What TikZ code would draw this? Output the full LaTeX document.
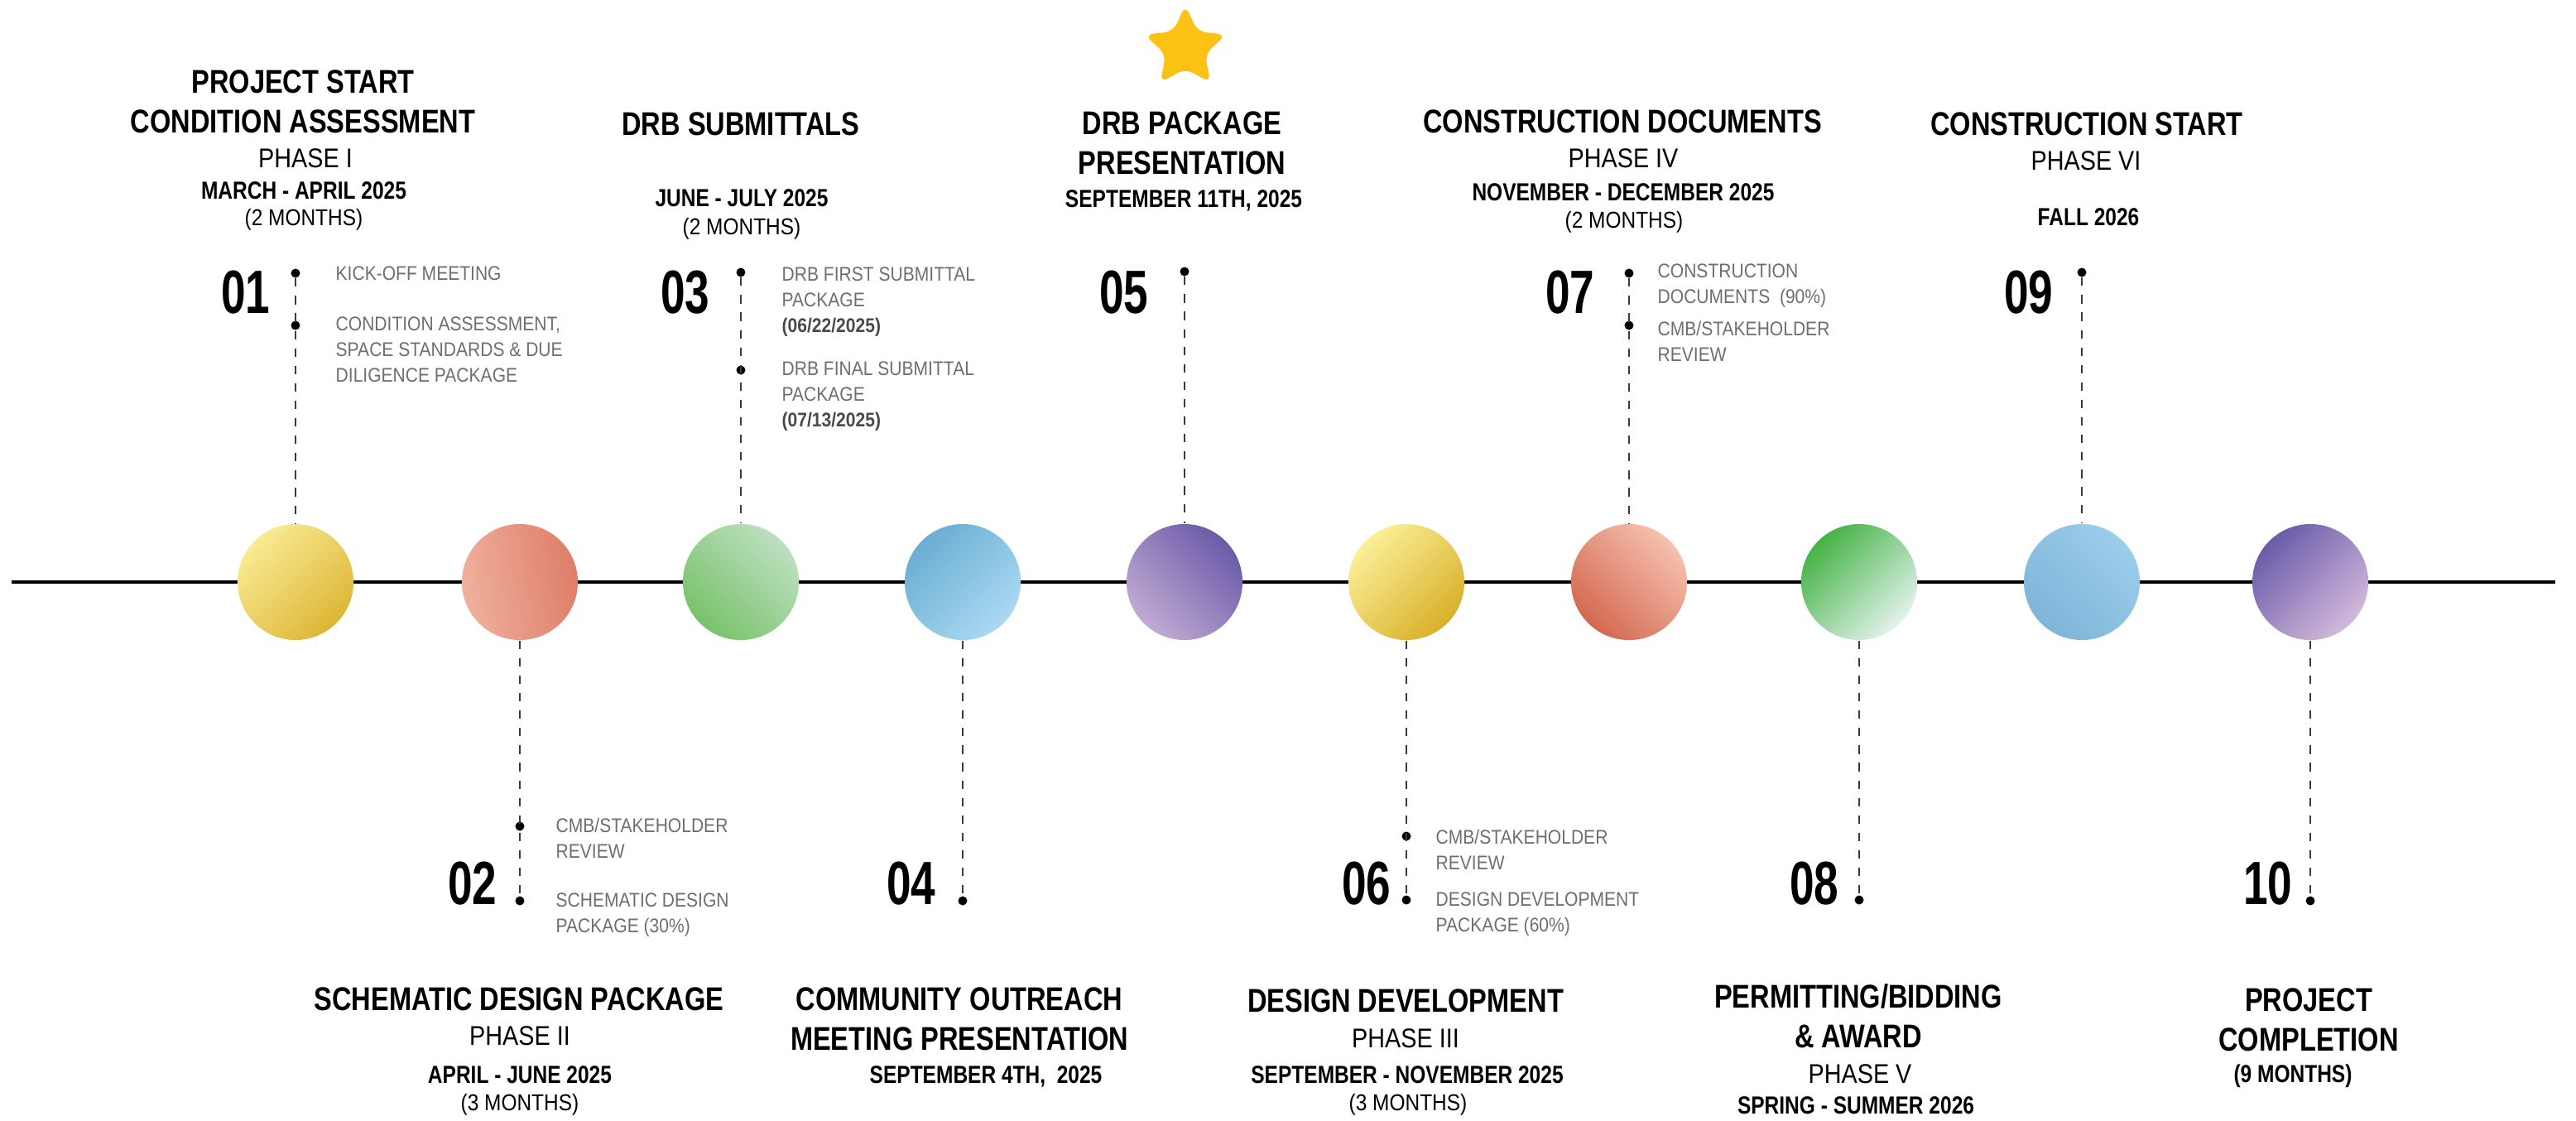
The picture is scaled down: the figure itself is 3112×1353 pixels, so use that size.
\documentclass[tikz,border=0pt]{standalone}
\usepackage{fontspec}
\setmainfont{Liberation Sans}[FakeStretch=0.82]
\newfontfamily\narrowfont{Liberation Sans}[FakeStretch=0.88]
\newfontfamily\numfont{Liberation Sans}[FakeStretch=0.72]
\usetikzlibrary{shapes.geometric}
\definecolor{notegray}{HTML}{6E6E6E}
\definecolor{dategray}{HTML}{4A4A4A}
\definecolor{dashgray}{HTML}{3A3A3A}
\definecolor{staryellow}{HTML}{FBC115}
\definecolor{yelA}{HTML}{F9EA93}\definecolor{yelB}{HTML}{DDB635}
\definecolor{salA}{HTML}{EFB09D}\definecolor{salB}{HTML}{DE7E68}
\definecolor{grnA}{HTML}{BDE0C0}\definecolor{grnB}{HTML}{78C26A}
\definecolor{bluA}{HTML}{6AAED2}\definecolor{bluB}{HTML}{ABD9F3}
\definecolor{purA}{HTML}{6A5BA8}\definecolor{purB}{HTML}{C1AAD4}
\definecolor{yelC}{HTML}{FBEF98}\definecolor{yelD}{HTML}{D8B02A}
\definecolor{salC}{HTML}{F6C1AF}\definecolor{salD}{HTML}{D36850}
\definecolor{grnC}{HTML}{45B345}\definecolor{grnD}{HTML}{E3F2EE}
\definecolor{bluC}{HTML}{9BCDEB}\definecolor{bluD}{HTML}{7FB5D9}
\definecolor{purC}{HTML}{6A5BA8}\definecolor{purD}{HTML}{D3BADB}
\newcommand{\notedate}[1]{{\color{dategray}\bfseries #1}}

\begin{document}
\begin{tikzpicture}[x=0.01cm, y=-0.01cm,
  ball/.style={circle, inner sep=0pt, minimum size=1.4cm},
  dot/.style={circle, fill=black, inner sep=0pt, minimum size=0.11cm},
  link/.style={draw=dashgray, line width=0.55pt, dash pattern=on 2.9pt off 3.1pt},
  ttl/.style={anchor=base, inner sep=0pt, align=center,
    font=\fontsize{11.3}{13.6}\selectfont\bfseries},
  phase/.style={anchor=base, inner sep=0pt, font=\narrowfont\fontsize{9.3}{11}\selectfont},
  when/.style={anchor=base, inner sep=0pt, font=\fontsize{8.5}{10}\selectfont\bfseries},
  dur/.style={anchor=base, inner sep=0pt, font=\narrowfont\fontsize{7.9}{9}\selectfont},
  num/.style={anchor=base east, inner sep=0pt, font=\numfont\bfseries\fontsize{21}{24}\selectfont},
  note/.style={anchor=base west, inner sep=0pt, align=left, text=notegray,
    font=\narrowfont\fontsize{6.8}{8.7}\selectfont}]
\useasboundingbox (0,0) rectangle (3112,1353);

% Timeline
\coordinate (lineL) at (14,703);
\coordinate (lineR) at (3087,703);
\draw[line width=1.3pt] (lineL) -- (lineR);

% Milestones
\node[ball, top color=yelA, bottom color=yelB, shading angle=45] (c1) at (357,703) {};
\node[ball, top color=salB, bottom color=salA, shading angle=-80] (c2) at (628,703) {};
\node[ball, top color=grnA, bottom color=grnB, shading angle=-45] (c3) at (895,703) {};
\node[ball, top color=bluA, bottom color=bluB, shading angle=45] (c4) at (1163,703) {};
\node[ball, top color=purA, bottom color=purB, shading angle=-45] (c5) at (1431,703) {};
\node[ball, top color=yelC, bottom color=yelD, shading angle=45] (c6) at (1699,703) {};
\node[ball, top color=salC, bottom color=salD, shading angle=-45] (c7) at (1968,703) {};
\node[ball, top color=grnC, bottom color=grnD, shading angle=45] (c8) at (2246,703) {};
\node[ball, top color=bluC, bottom color=bluD, shading angle=-45] (c9) at (2515,703) {};
\node[ball, top color=purC, bottom color=purD, shading angle=45] (c10) at (2791,703) {};

% Labels above (multi-line nodes sit on their last line)
\node[ttl] (t1) at (366,160) {PROJECT START\\CONDITION ASSESSMENT};
\node[phase] (p1) at (369,202) {PHASE I};
\node[when] (w1) at (367,240) {MARCH - APRIL 2025};
\node[dur] (m1) at (367,272) {(2 MONTHS)};
\node[num] (n1) at (327,378) {01};
\node[dot] (d1a) at (357,330) {};
\node[dot] (d1b) at (357,393) {};
\node[note] (e1a) at (405,338) {KICK-OFF MEETING};
\node[note] (e1b) at (405,461) {CONDITION ASSESSMENT,\\SPACE STANDARDS \& DUE\\DILIGENCE PACKAGE};

\node[ttl] (t3) at (895,163) {DRB SUBMITTALS};
\node[when] (w3) at (896,249) {JUNE - JULY 2025};
\node[dur] (m3) at (896,283) {(2 MONTHS)};
\node[num] (n3) at (858,378) {03};
\node[dot] (d3a) at (895,329) {};
\node[dot] (d3b) at (895,447) {};
\node[note] (e3a) at (944,401) {DRB FIRST SUBMITTAL\\PACKAGE\\\notedate{(06/22/2025)}};
\node[note] (e3b) at (944,515) {DRB FINAL SUBMITTAL\\PACKAGE\\\notedate{(07/13/2025)}};

\node[star, star points=5, star point ratio=2.1, minimum size=1.04cm, inner sep=0pt,
  fill=staryellow, rounded corners=3pt] (star) at (1432,58) {};
\node[ttl] (t5) at (1428,210) {DRB PACKAGE\\PRESENTATION};
\node[when] (w5) at (1430,250) {SEPTEMBER 11TH, 2025};
\node[num] (n5) at (1388,378) {05};
\node[dot] (d5a) at (1431,328) {};

\node[ttl] (t7) at (1960,160) {CONSTRUCTION DOCUMENTS};
\node[phase] (p7) at (1961,202) {PHASE IV};
\node[when] (w7) at (1961,242) {NOVEMBER - DECEMBER 2025};
\node[dur] (m7) at (1962,275) {(2 MONTHS)};
\node[num] (n7) at (1927,378) {07};
\node[dot] (d7a) at (1968,330) {};
\node[dot] (d7b) at (1968,393) {};
\node[note] (e7a) at (2002,366) {CONSTRUCTION\\DOCUMENTS~~(90\%)};
\node[note] (e7b) at (2002,436) {CMB/STAKEHOLDER\\REVIEW};

\node[ttl] (t9) at (2521,163) {CONSTRUCTION START};
\node[phase] (p9) at (2520,205) {PHASE VI};
\node[when] (w9) at (2523,272) {FALL 2026};
\node[num] (n9) at (2481,378) {09};
\node[dot] (d9a) at (2515,329) {};

% Labels below
\node[dot] (d2a) at (628,998) {};
\node[dot] (d2b) at (628,1088) {};
\node[num] (n2) at (601,1092) {02};
\node[note] (e2a) at (671,1036) {CMB/STAKEHOLDER\\REVIEW};
\node[note] (e2b) at (671,1126) {SCHEMATIC DESIGN\\PACKAGE (30\%)};
\node[ttl] (t2) at (627,1220) {SCHEMATIC DESIGN PACKAGE};
\node[phase] (p2) at (628,1262) {PHASE II};
\node[when] (w2) at (628,1308) {APRIL - JUNE 2025};
\node[dur] (m2) at (628,1341) {(3 MONTHS)};

\node[dot] (d4a) at (1163,1088) {};
\node[num] (n4) at (1131,1092) {04};
\node[ttl] (t4) at (1159,1268) {COMMUNITY OUTREACH\\MEETING PRESENTATION};
\node[when] (w4) at (1191,1308) {SEPTEMBER 4TH,~~2025};

\node[dot] (d6a) at (1699,1010) {};
\node[dot] (d6b) at (1699,1087) {};
\node[num] (n6) at (1681,1092) {06};
\node[note] (e6a) at (1734,1050) {CMB/STAKEHOLDER\\REVIEW};
\node[note] (e6b) at (1734,1125) {DESIGN DEVELOPMENT\\PACKAGE (60\%)};
\node[ttl] (t6) at (1698,1222) {DESIGN DEVELOPMENT};
\node[phase] (p6) at (1698,1265) {PHASE III};
\node[when] (w6) at (1700,1308) {SEPTEMBER - NOVEMBER 2025};
\node[dur] (m6) at (1701,1341) {(3 MONTHS)};

\node[dot] (d8a) at (2246,1087) {};
\node[num] (n8) at (2222,1092) {08};
\node[ttl] (t8) at (2245,1265) {PERMITTING/BIDDING\\\& AWARD};
\node[phase] (p8) at (2247,1308) {PHASE V};
\node[when] (w8) at (2242,1345) {SPRING - SUMMER 2026};

\node[dot] (d10a) at (2791,1088) {};
\node[num] (n10) at (2770,1092) {10};
\node[ttl] (t10) at (2789,1269) {PROJECT\\COMPLETION};
\node[when] (w10) at (2770,1307) {(9 MONTHS)};

% Links
\draw[link] (d1a) -- (c1);
\draw[link] (c2) -- (d2b);
\draw[link] (d3a) -- (c3);
\draw[link] (c4) -- (d4a);
\draw[link] (d5a) -- (c5);
\draw[link] (c6) -- (d6b);
\draw[link] (d7a) -- (c7);
\draw[link] (c8) -- (d8a);
\draw[link] (d9a) -- (c9);
\draw[link] (c10) -- (d10a);

\end{tikzpicture}
\end{document}
